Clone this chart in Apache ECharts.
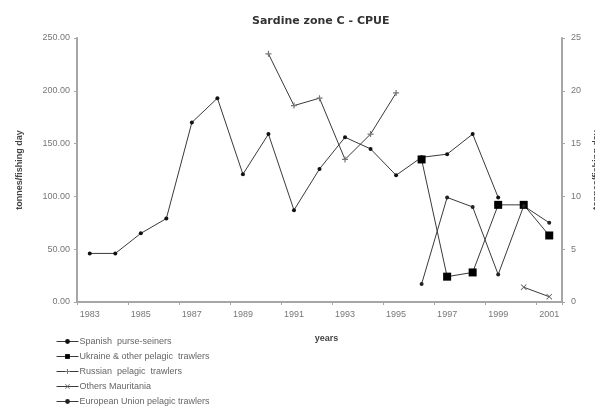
<!DOCTYPE html>
<html>
<head>
    <meta charset="utf-8">
    <script src="https://cdn.jsdelivr.net/npm/echarts@6.0.0/dist/echarts.min.js"></script>
    <style>
        html, body { margin: 0; padding: 0; background: #fff; }
        #main { width: 595px; height: 407px; }
    </style>
</head>
<body>
<div id="main"></div>
<script type="text/javascript">
    // years on the x axis
    var years = ['1983', '1984', '1985', '1986', '1987', '1988', '1989', '1990', '1991', '1992',
        '1993', '1994', '1995', '1996', '1997', '1998', '1999', '2000', '2001'];

    // CPUE per fleet (tonnes/fishing day)
    var spanish = [46, 46, 65, 79, 170, 193, 121, 159, 87, 126, 156, 145, 120, 137, 140, 159, 99, null, null];
    var ukraine = [null, null, null, null, null, null, null, null, null, null, null, null, null, 135, 24, 28, 92, 92, 63];
    var russian = [null, null, null, null, null, null, null, 235, 186, 193, 135, 159, 198, null, null, null, null, null, null];
    var othersMauritania = [null, null, null, null, null, null, null, null, null, null, null, null, null, null, null, null, null, 14, 5];
    var euTrawlers = [null, null, null, null, null, null, null, null, null, null, null, null, null, 17, 99, 90, 26, 91, 75];

    var leftTicks = [0, 50, 100, 150, 200, 250];
    var rightTicks = [0, 5, 10, 15, 20, 25];

    var plusPath = 'path://M4,0h2v10h-2z M0,4h10v2h-10z';
    var crossPath = 'path://M1,0L5,4L9,0L10,1L6,5L10,9L9,10L5,6L1,10L0,9L4,5L0,1Z';

    function lineSeries(name, data, symbol, size, color) {
        return {
            name: name,
            type: 'line',
            data: data,
            symbol: symbol,
            symbolSize: size,
            showAllSymbol: true,
            connectNulls: false,
            lineStyle: { color: '#3a3a3a', width: 1 },
            itemStyle: { color: color, borderColor: color, borderWidth: 0 },
            emphasis: { disabled: true }
        };
    }

    var axisGrey = '#a6a6a6';
    var labelGrey = '#777';

    var option = {
        animation: false,
        backgroundColor: '#fff',
        title: {
            text: 'Sardine zone C - CPUE',
            left: 247,
            top: 11,
            textStyle: { fontFamily: 'DejaVu Sans', fontSize: 11, fontWeight: 'bold', color: '#333' }
        },
        legend: {
            orient: 'vertical',
            left: 51,
            top: 332,
            height: 120,
            itemGap: 6,
            itemWidth: 22,
            itemHeight: 6,
            lineStyle: { width: 1 },
            textStyle: { fontFamily: 'Liberation Sans', fontSize: 9, color: '#666', padding: [0, 0, 0, -4] },
            data: ['Spanish  purse-seiners', 'Ukraine & other pelagic  trawlers', 'Russian  pelagic  trawlers',
                'Others Mauritania', 'European Union pelagic trawlers']
        },
        grid: { left: 77, right: 33, top: 38, bottom: 105, outerBoundsMode: 'none' },
        xAxis: {
            type: 'category',
            data: years,
            boundaryGap: true,
            name: 'years',
            nameLocation: 'middle',
            nameGap: 32,
            nameTextStyle: { fontFamily: 'Liberation Sans', fontSize: 9, fontWeight: 'bold', color: '#444', padding: [0, 0, 0, 14] },
            axisLine: { lineStyle: { color: axisGrey, width: 2 } },
            axisTick: { show: true, length: 3, lineStyle: { color: axisGrey } },
            axisLabel: { interval: 1, fontFamily: 'Liberation Sans', fontSize: 9, color: labelGrey, margin: 8 },
            splitLine: { show: false }
        },
        yAxis: [{
            type: 'value',
            min: leftTicks[0],
            max: leftTicks[leftTicks.length - 1],
            interval: leftTicks[1] - leftTicks[0],
            name: 'tonnes/fishing day',
            nameLocation: 'middle',
            nameRotate: 90,
            nameGap: 53,
            nameTextStyle: { fontFamily: 'Liberation Sans', fontSize: 9, fontWeight: 'bold', color: '#444' },
            axisLine: { show: true, lineStyle: { color: axisGrey, width: 2 } },
            axisTick: { show: true, length: 3, lineStyle: { color: axisGrey } },
            axisLabel: {
                fontFamily: 'Liberation Sans', fontSize: 9, color: labelGrey, margin: 7,
                formatter: function (v) { return v.toFixed(2); }
            },
            splitLine: { show: false }
        }, {
            type: 'value',
            position: 'right',
            min: rightTicks[0],
            max: rightTicks[rightTicks.length - 1],
            interval: rightTicks[1] - rightTicks[0],
            name: 'tonnes/fishing day',
            nameLocation: 'middle',
            nameRotate: 90,
            nameGap: 30,
            nameTextStyle: { fontFamily: 'Liberation Sans', fontSize: 9, fontWeight: 'bold', color: '#444' },
            axisLine: { show: true, lineStyle: { color: axisGrey, width: 2 } },
            axisTick: { show: true, length: 3, lineStyle: { color: axisGrey } },
            axisLabel: { fontFamily: 'Liberation Sans', fontSize: 9, color: labelGrey, margin: 9 },
            splitLine: { show: false }
        }],
        series: [
            lineSeries('Spanish  purse-seiners', spanish, 'circle', 4, '#111'),
            lineSeries('Ukraine & other pelagic  trawlers', ukraine, 'rect', 8, '#000'),
            lineSeries('Russian  pelagic  trawlers', russian, plusPath, 6, '#777'),
            lineSeries('Others Mauritania', othersMauritania, crossPath, 6, '#666'),
            lineSeries('European Union pelagic trawlers', euTrawlers, 'circle', 4, '#222')
        ]
    };

    var chart = echarts.init(document.getElementById('main'));
    chart.setOption(option);
</script>
</body>
</html>
